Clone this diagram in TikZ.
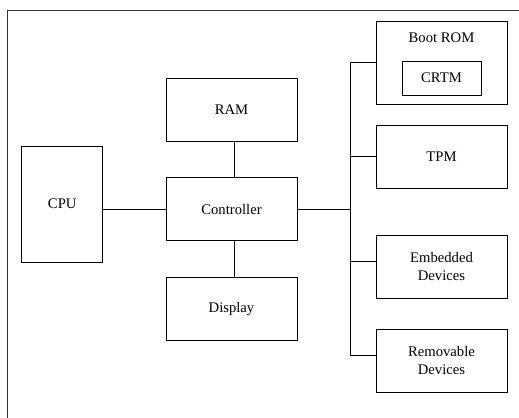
\documentclass[tikz,border=0pt]{standalone}
\usepackage{fontspec}
\setmainfont{Liberation Serif}
\usetikzlibrary{positioning}

\tikzset{every picture/.style={line width=0.75pt}}
\tikzset{
	blockbox/.style={draw, minimum width=98.25pt, minimum height=47.25pt, inner sep=0pt, align=center, font=\fontsize{11}{13}\selectfont},
	wire/.style={draw, line width=0.75pt}
}

\begin{document}
\begin{tikzpicture}[x=0.75pt,y=0.75pt,yscale=-1,xscale=1]
	\useasboundingbox (0,0) rectangle (519,418);
	
	%Frame
	\draw [color=black!80]  (7,418) -- (7,10) -- (519,10) ;
	
	%Shape: Rectangle [CPU]
	\node [blockbox, minimum width=61pt, minimum height=87pt] (cpu) at (62.25,204) {CPU};
	
	%Shape: Rectangle [RAM]
	\node [blockbox] (ram) at (231.5,109.5) {RAM};
	%Shape: Rectangle [Controller]
	\node [blockbox] (ctrl) at (231.5,209) {Controller};
	%Shape: Rectangle [Display]
	\node [blockbox] (disp) at (231.5,308.5) {Display};
	
	%Shape: Rectangle [Boot ROM]
	\node [blockbox, minimum height=62.25pt] (bootrom) at (441.5,62.5) {};
	\node [font=\fontsize{11}{13}\selectfont, below=6.5pt of bootrom.north, inner sep=2pt] (bootlbl) {Boot ROM};
	%Shape: Rectangle [CRTM]
	\node [blockbox, minimum width=59.25pt, minimum height=25.5pt] (crtm) at (441.5,78) {CRTM};
	
	%Shape: Rectangle [TPM]
	\node [blockbox] (tpm) at (441.5,156.5) {TPM};
	%Shape: Rectangle [Embedded]
	\node [blockbox] (emb) at (441.5,266.5) {Embedded\\Devices};
	%Shape: Rectangle [Removable]
	\node [blockbox] (rem) at (441.5,360.5) {Removable\\Devices};
	
	%Bus
	\coordinate (bus) at (350,209);
	\coordinate (embin) at ([yshift=-4.1pt]emb.west);
	\coordinate (remin) at ([yshift=-4.1pt]rem.west);
	
	%Straight Lines
	\draw [wire] (cpu.east |- ctrl.west) -- (ctrl.west) ;
	\draw [wire] ([xshift=2pt]ram.south) -- ([xshift=2pt]ctrl.north) ;
	\draw [wire] ([xshift=2pt]ctrl.south) -- ([xshift=2pt]disp.north) ;
	\draw [wire] (ctrl.east) -- (bus) ;
	\draw [wire] (bus |- bootrom.west) -- (bus |- remin) ;
	\draw [wire] (bus |- bootrom.west) -- (bootrom.west) ;
	\draw [wire] (bus |- tpm.west) -- (tpm.west) ;
	\draw [wire] (bus |- embin) -- (embin) ;
	\draw [wire] (bus |- remin) -- (remin) ;
	
\end{tikzpicture}
\end{document}
